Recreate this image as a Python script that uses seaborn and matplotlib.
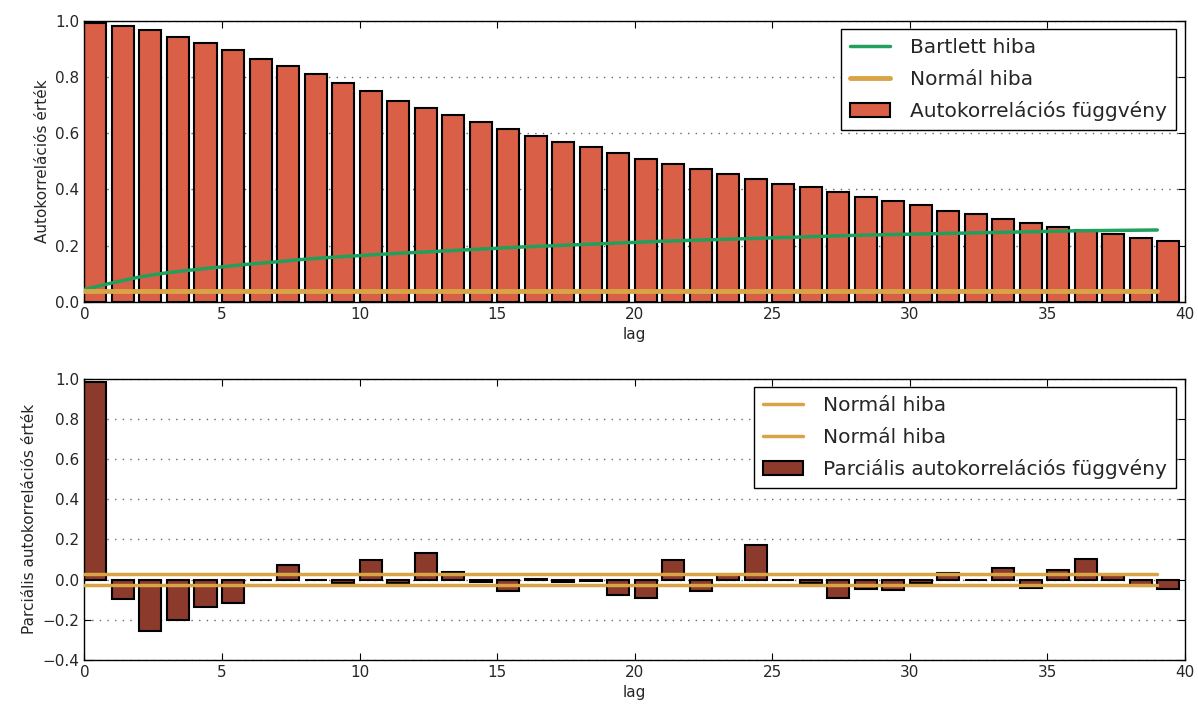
import numpy as np
import pandas as pd
import matplotlib
matplotlib.use("Agg")
import matplotlib.pyplot as plt
import seaborn as sns

# ---- data ----
lags = list(range(40))
acf = [0.99, 0.979, 0.965, 0.943, 0.921, 0.896, 0.864, 0.838, 0.809, 0.778,
       0.748, 0.716, 0.690, 0.664, 0.638, 0.613, 0.591, 0.569, 0.552, 0.530,
       0.508, 0.490, 0.473, 0.455, 0.437, 0.421, 0.407, 0.390, 0.372, 0.359,
       0.343, 0.325, 0.313, 0.295, 0.282, 0.268, 0.255, 0.242, 0.229, 0.216]
bartlett = [0.045, 0.068, 0.089, 0.104, 0.115, 0.125, 0.135, 0.143, 0.152, 0.159,
            0.165, 0.171, 0.176, 0.181, 0.186, 0.191, 0.196, 0.200, 0.204, 0.208,
            0.212, 0.216, 0.219, 0.222, 0.225, 0.228, 0.231, 0.234, 0.237, 0.239,
            0.241, 0.243, 0.245, 0.247, 0.249, 0.251, 0.253, 0.254, 0.255, 0.256]
normal_top = 0.040
pacf = [0.985, -0.098, -0.256, -0.200, -0.134, -0.116, -0.003, 0.074, -0.003, -0.015,
        0.098, -0.017, 0.134, 0.037, -0.013, -0.057, 0.005, -0.014, -0.009, -0.074,
        -0.093, 0.098, -0.057, 0.023, 0.171, -0.003, -0.015, -0.093, -0.044, -0.049,
        -0.015, 0.034, -0.003, 0.060, -0.040, 0.049, 0.103, 0.021, -0.033, -0.044]
normal_upper = 0.030
normal_lower = -0.025

x_ticks = [0, 5, 10, 15, 20, 25, 30, 35, 40]
top_yticks = [0.0, 0.2, 0.4, 0.6, 0.8, 1.0]
bot_yticks = [-0.4, -0.2, 0.0, 0.2, 0.4, 0.6, 0.8, 1.0]

C_ACF = "#d95f46"
C_PACF = "#8b3a2c"
C_GREEN = "#20a05c"
C_ORANGE = "#d9a445"
TXT = "#262626"

sns.set_style("ticks")
plt.rcParams.update({
    "font.family": ["DejaVu Sans"],
    "xtick.direction": "in", "ytick.direction": "in",
    "xtick.top": True, "ytick.right": True,
    "xtick.major.size": 5, "ytick.major.size": 5,
    "xtick.labelsize": 11, "ytick.labelsize": 11,
    "axes.labelsize": 11,
    "axes.edgecolor": "black", "axes.linewidth": 1.0,
    "text.color": TXT, "axes.labelcolor": TXT,
    "xtick.color": "black", "ytick.color": "black",
    "xtick.labelcolor": TXT, "ytick.labelcolor": TXT,
})

fig, (ax1, ax2) = plt.subplots(2, 1, figsize=(11.98, 7.09), dpi=100)
fig.subplots_adjust(left=0.0705, right=0.989, top=0.971, bottom=0.069, hspace=0.272)

df = pd.DataFrame({"lag": lags, "acf": acf, "pacf": pacf, "bartlett": bartlett})
df["pos"] = df["lag"] + 0.4  # bars span [lag, lag+0.8]

LEG = dict(loc="upper right", fontsize=14.5, frameon=True, fancybox=False,
           edgecolor="black", framealpha=1, borderaxespad=0.43, borderpad=0.45,
           labelspacing=0.62, handlelength=2.0, handletextpad=1.0)

def grid(ax):
    ax.yaxis.grid(True, linestyle=(0, (1, 4.5)), color="#666666", linewidth=1.0)
    ax.set_axisbelow(True)

# ---- top: ACF ----
sns.barplot(data=df, x="pos", y="acf", native_scale=True, width=0.8, ax=ax1,
            color=C_ACF, saturation=1, edgecolor="black", linewidth=1.5,
            label="Autokorrelációs függvény", zorder=2)
sns.lineplot(data=df, x="lag", y="bartlett", ax=ax1, color=C_GREEN, linewidth=2.5,
             label="Bartlett hiba", zorder=3)
sns.lineplot(x=lags, y=[normal_top] * len(lags), ax=ax1, color=C_ORANGE, linewidth=3.5,
             label="Normál hiba", zorder=3)
ax1.set_xlim(0, 40)
ax1.set_ylim(0, 1.0)
ax1.set_xticks(x_ticks)
ax1.set_yticks(top_yticks)
ax1.set_xlabel("lag")
ax1.set_ylabel("Autokorrelációs érték")
grid(ax1)
leg1 = ax1.legend(**LEG)
leg1.get_frame().set_linewidth(1.0)

# ---- bottom: PACF ----
sns.barplot(data=df, x="pos", y="pacf", native_scale=True, width=0.8, ax=ax2,
            color=C_PACF, saturation=1, edgecolor="black", linewidth=1.5,
            label="Parciális autokorrelációs függvény", zorder=2)
sns.lineplot(x=lags, y=[normal_upper] * len(lags), ax=ax2, color=C_ORANGE, linewidth=2.5,
             label="Normál hiba", zorder=3)
sns.lineplot(x=lags, y=[normal_lower] * len(lags), ax=ax2, color=C_ORANGE, linewidth=2.5,
             label="Normál hiba ", zorder=3)
ax2.set_xlim(0, 40)
ax2.set_ylim(-0.4, 1.0)
ax2.set_xticks(x_ticks)
ax2.set_yticks(bot_yticks)
ax2.set_yticklabels([f"{v:.1f}".replace("-", "\u2212") for v in bot_yticks])
ax2.set_xlabel("lag")
ax2.set_ylabel("Parciális autokorrelációs érték")
grid(ax2)
h, l = ax2.get_legend_handles_labels()
l = [s.strip() for s in l]
leg2 = ax2.legend(h, l, **LEG)
leg2.get_frame().set_linewidth(1.0)

for ax in (ax1, ax2):
    ax.set_xticklabels([str(t) for t in x_ticks])

fig.savefig("out.png", dpi=100)
